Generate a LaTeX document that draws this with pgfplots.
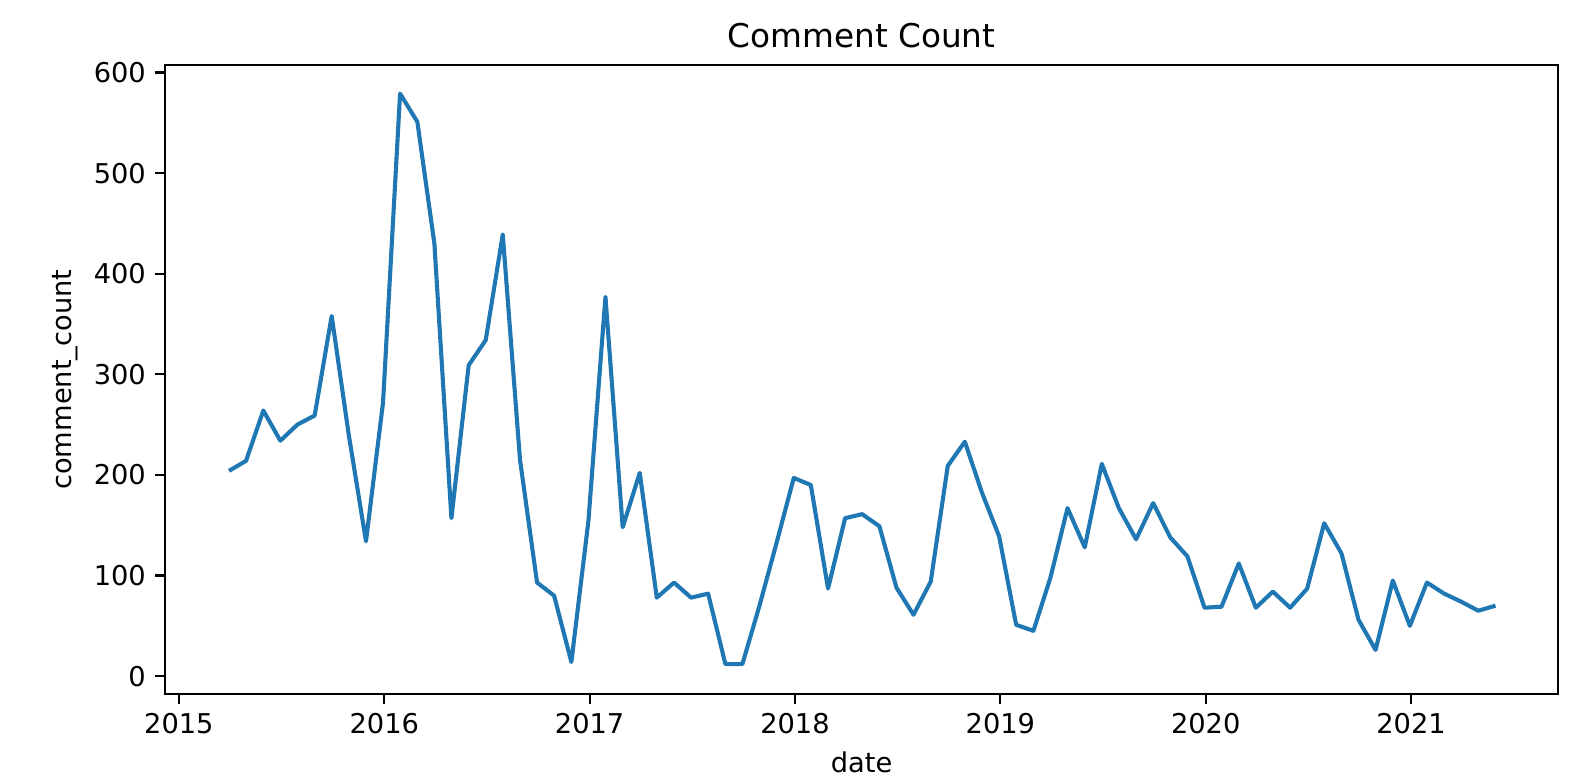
\documentclass[border=0pt]{standalone}
\usepackage{fontspec}
\setmainfont{DejaVu Sans}
\usepackage{pgfplots}
\pgfplotsset{compat=1.18}
\definecolor{tabblue}{HTML}{1F77B4}

\begin{document}
\begin{tikzpicture}
\path[use as bounding box] (0,0) rectangle (577.7pt,284.3pt);
\begin{axis}[
  at={(60.5pt,29.7pt)},
  anchor=south west,
  width=511pt,
  height=230.7pt,
  scale only axis,
  xmin=2014.932, xmax=2021.716,
  ymin=-17.9, ymax=607.3,
  xtick={2015,2016,2017,2018,2019,2020,2021},
  ytick={0,100,200,300,400,500,600},
  /pgf/number format/1000 sep={},
  /pgf/number format/assume math mode=true,
  tick align=outside,
  major tick length=3.5pt,
  tick style={line width=0.8pt, black},
  axis line style={line width=0.8pt},
  xtick pos=bottom, ytick pos=left,
  ticklabel style={font=\fontsize{10}{12}\selectfont},
  title={Comment Count},
  every axis title shift=0pt,
  title style={font=\fontsize{12}{14}\selectfont, at={(axis description cs:0.5,1.0477)}, anchor=center, yshift=0pt},
  xlabel={date},
  xlabel style={font=\fontsize{10}{12}\selectfont, at={(axis description cs:0.5,-0.108)}, anchor=center},
  ylabel={comment\_count},
  ylabel style={font=\fontsize{10}{12}\selectfont, at={(axis description cs:-0.0718,0.5)}, anchor=center},
]
\addplot[color=tabblue, line width=1.5pt, line join=round] table[row sep=crcr]{
2015.244 204\\
2015.327 214\\
2015.411 264\\
2015.494 234\\
2015.577 250\\
2015.661 259\\
2015.744 358\\
2015.827 240\\
2015.911 134\\
2015.994 272\\
2016.077 579\\
2016.161 551\\
2016.244 430\\
2016.327 157\\
2016.411 309\\
2016.494 334\\
2016.577 439\\
2016.661 215\\
2016.744 93\\
2016.827 80\\
2016.911 14\\
2016.994 154\\
2017.077 377\\
2017.161 148\\
2017.244 202\\
2017.327 78\\
2017.411 93\\
2017.494 78\\
2017.577 82\\
2017.661 12\\
2017.744 12\\
2017.827 70\\
2017.911 133\\
2017.994 197\\
2018.077 190\\
2018.161 87\\
2018.244 157\\
2018.327 161\\
2018.411 149\\
2018.494 88\\
2018.577 61\\
2018.661 94\\
2018.744 209\\
2018.827 233\\
2018.911 182\\
2018.994 139\\
2019.077 51\\
2019.161 45\\
2019.244 98\\
2019.327 167\\
2019.411 128\\
2019.494 211\\
2019.577 167\\
2019.661 136\\
2019.744 172\\
2019.827 138\\
2019.911 119\\
2019.994 68\\
2020.077 69\\
2020.161 112\\
2020.244 68\\
2020.327 84\\
2020.411 68\\
2020.494 87\\
2020.577 152\\
2020.661 122\\
2020.744 56\\
2020.827 26\\
2020.911 95\\
2020.994 50\\
2021.077 93\\
2021.161 82\\
2021.244 74\\
2021.327 65\\
2021.411 70\\
};
\end{axis}
\end{tikzpicture}
\end{document}
